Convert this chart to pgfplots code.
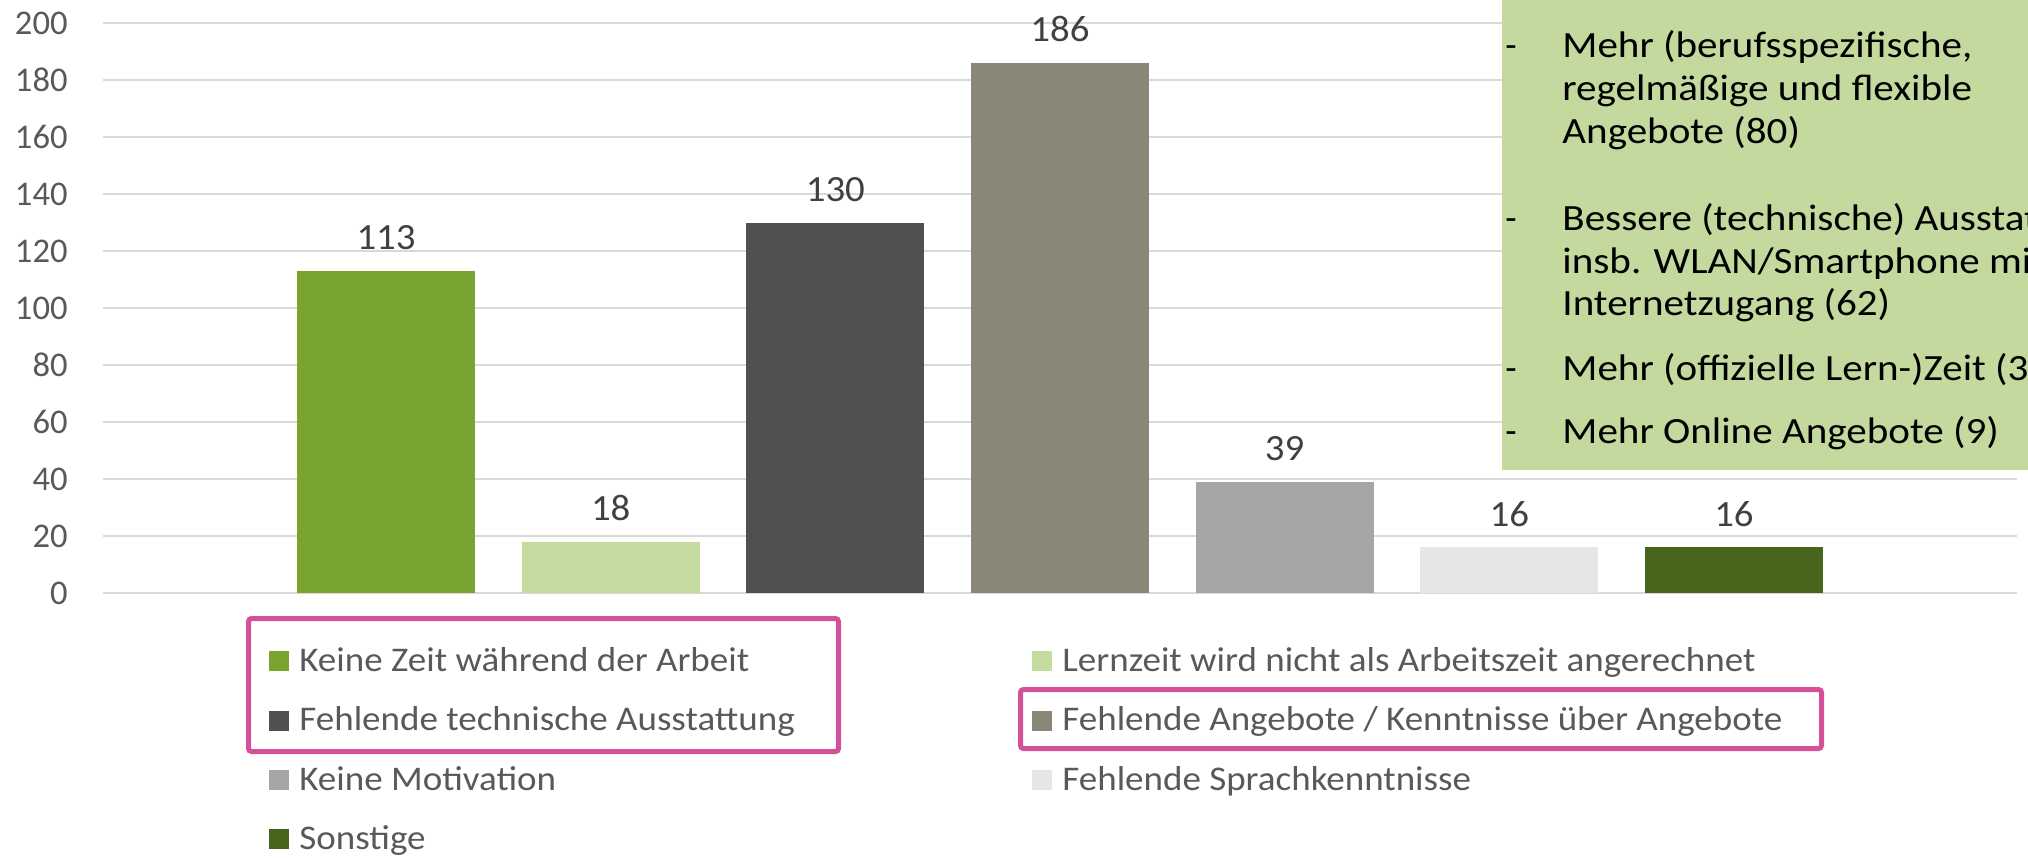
\documentclass[border=0pt]{standalone}
\usepackage{fontspec}
\setmainfont{Carlito}
\usepackage{graphicx}
\usepackage{pgfplots}
\pgfplotsset{compat=1.18}
\definecolor{c1}{HTML}{78A42F}
\definecolor{c2}{HTML}{C3DB9E}
\definecolor{c3}{HTML}{505050}
\definecolor{c4}{HTML}{8A8779}
\definecolor{c5}{HTML}{A6A6A6}
\definecolor{c6}{HTML}{E6E6E6}
\definecolor{c7}{HTML}{47651D}
\definecolor{boxg}{HTML}{C3D99D}
\definecolor{pinkb}{HTML}{D4509A}
\definecolor{txt}{HTML}{595959}
\definecolor{lbl}{HTML}{404040}
\definecolor{gridc}{HTML}{D9D9D9}
\newcommand\BT[1]{\scalebox{1.11}[1]{#1}}
\newcommand\LT[1]{\scalebox{1.07}[1]{#1}}
\begin{document}
\begin{tikzpicture}
\useasboundingbox (0,0) rectangle (1014pt,-428.5pt);
\clip (0,0) rectangle (1014pt,-428.5pt);
\begin{axis}[at={(51.5pt,-296.5pt)}, anchor=south west, scale only axis,
  width=957pt, height=285pt,
  xmin=-1.26, xmax=7.26, ymin=0, ymax=200,
  ytick={0,20,...,200}, xtick=\empty,
  axis line style={draw=none}, major tick length=0pt,
  ymajorgrids, major grid style={gridc, line width=1pt},
  /pgf/number format/assume math mode=true,
  yticklabel style={font=\fontsize{17.3pt}{20pt}\selectfont, text=txt, anchor=east, inner sep=0pt, xshift=-17.5pt},
  clip=false,
  nodes near coords={\scalebox{1.05}[1]{\pgfmathprintnumber{\pgfplotspointmeta}}},
  nodes near coords style={font=\fontsize{18.5pt}{22pt}\selectfont, text=lbl, anchor=base, inner sep=0pt, yshift=10.5pt},
  every axis plot/.append style={ybar, bar width=89pt, bar shift=0pt, draw=none}]
\addplot[fill=c1] coordinates {(0,113)};
\addplot[fill=c2] coordinates {(1,18)};
\addplot[fill=c3] coordinates {(2,130)};
\addplot[fill=c4] coordinates {(3,186)};
\addplot[fill=c5] coordinates {(4,39)};
\addplot[fill=c6] coordinates {(5,16)};
\addplot[fill=c7] coordinates {(6,16)};
\end{axis}
\begin{scope}[x=0.5pt, y=-0.5pt]
% text box
\fill[boxg] (1502,-20) rectangle (2060,470);
\begin{scope}[every node/.style={anchor=base west, inner sep=0pt, font=\fontsize{18.5pt}{22pt}\selectfont, text=black}]
\node at (1505,57) {-}; \node at (1562,57) {\BT{Mehr (berufsspezifische,}};
\node at (1562,100) {\BT{regelmäßige und flexible}};
\node at (1562,143) {\BT{Angebote (80)}};
\node at (1505,230) {-}; \node at (1562,230) {\BT{Bessere (technische) Ausstattung,}};
\node at (1562,273) {\BT{insb. WLAN/Smartphone mit}};
\node at (1562,315) {\BT{Internetzugang (62)}};
\node at (1505,380) {-}; \node at (1562,380) {\BT{Mehr (offizielle Lern-)Zeit (35)}};
\node at (1505,443) {-}; \node at (1562,443) {\BT{Mehr Online Angebote (9)}};
\end{scope}
% legend
\begin{scope}[every node/.style={anchor=base west, inner sep=0pt, font=\fontsize{17.3pt}{20pt}\selectfont, text=txt}]
\fill[c1] (269,651) rectangle (289,671); \node at (299,671) {\LT{Keine Zeit während der Arbeit}};
\fill[c2] (1032,651) rectangle (1052,671); \node at (1062,671) {\LT{Lernzeit wird nicht als Arbeitszeit angerechnet}};
\fill[c3] (269,710.5) rectangle (289,730.5); \node at (299,730.5) {\LT{Fehlende technische Ausstattung}};
\fill[c4] (1032,710.5) rectangle (1052,730.5); \node at (1062,730.5) {\LT{Fehlende Angebote / Kenntnisse über Angebote}};
\fill[c5] (269,770) rectangle (289,790); \node at (299,790) {\LT{Keine Motivation}};
\fill[c6] (1032,770) rectangle (1052,790); \node at (1062,790) {\LT{Fehlende Sprachkenntnisse}};
\fill[c7] (269,829) rectangle (289,849); \node at (299,849) {\LT{Sonstige}};
\end{scope}
\draw[pinkb, line width=2.5pt, rounded corners=1.5pt] (248.5,618.5) rectangle (838.5,751.5);
\draw[pinkb, line width=2.5pt, rounded corners=1.5pt] (1020.5,689.5) rectangle (1821.5,748.5);
\end{scope}
\end{tikzpicture}
\end{document}
